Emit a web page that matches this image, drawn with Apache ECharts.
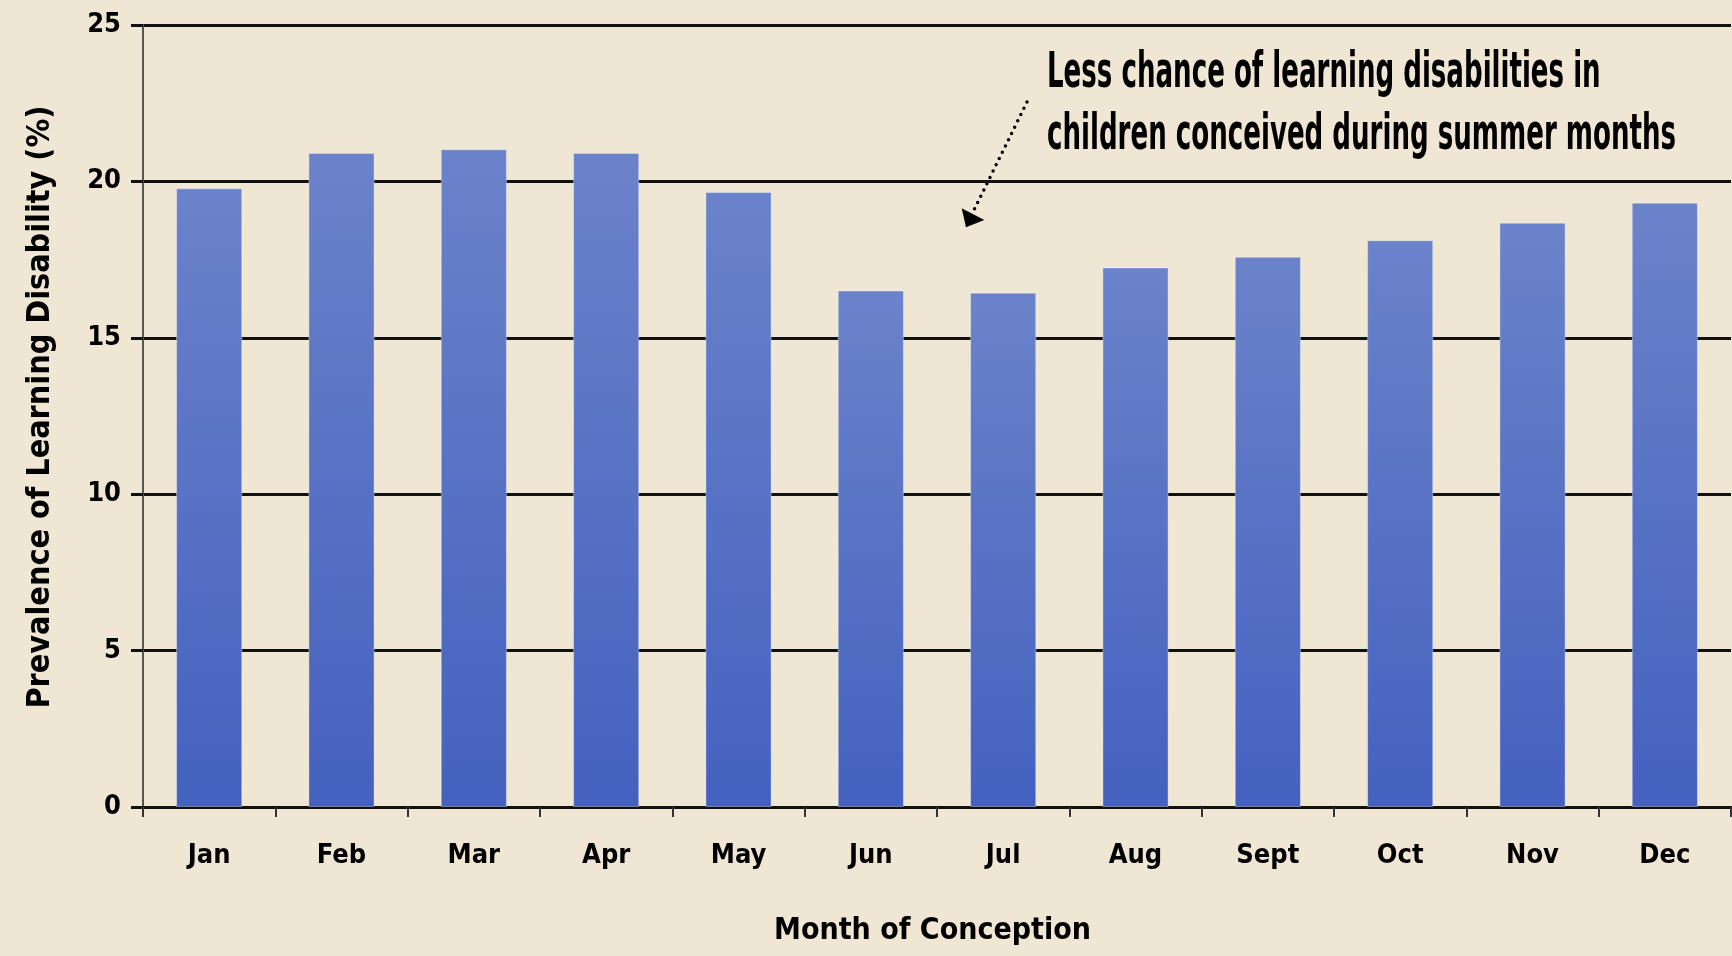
<!DOCTYPE html>
<html>
<head>
<meta charset="utf-8">
<script src="https://cdn.jsdelivr.net/npm/echarts@6/dist/echarts.min.js"></script>
<style>
html,body{margin:0;padding:0;background:#F0E6D4;}
#chart{width:1732px;height:956px;}
</style>
</head>
<body>
<div id="chart"></div>
<script>
var months = ['Jan','Feb','Mar','Apr','May','Jun','Jul','Aug','Sept','Oct','Nov','Dec'];
var prevalence = [19.78, 20.91, 21.03, 20.91, 19.66, 16.51, 16.44, 17.25, 17.59, 18.12, 18.68, 19.32];
var yTicks = { min: 0, max: 25, interval: 5 };
var annotationLines = ['Less chance of learning disabilities in', 'children conceived during summer months'];

var FONT = '"DejaVu Sans Condensed", "Liberation Sans Narrow", sans-serif';
var chart = echarts.init(document.getElementById('chart'), null, {renderer: 'canvas'});

var option = {
  backgroundColor: '#F0E6D4',
  animation: false,
  grid: { left: 143, top: 25, width: 1588, bottom: 149, containLabel: false },
  xAxis: {
    type: 'category',
    data: months,
    boundaryGap: true,
    name: 'Month of Conception',
    nameLocation: 'middle',
    nameGap: 109,
    nameTextStyle: { fontFamily: FONT, fontWeight: 'bold', fontSize: 30, color: '#000', padding: [0, 9, 0, 0] },
    axisLine: { show: true, lineStyle: { color: '#111', width: 3 } },
    axisTick: { show: true, length: 10, alignWithLabel: false, lineStyle: { color: '#333', width: 2 } },
    axisLabel: { fontFamily: FONT, fontWeight: 'bold', fontSize: 27, color: '#000', margin: 35 },
    splitLine: { show: false }
  },
  yAxis: {
    type: 'value',
    min: yTicks.min,
    max: yTicks.max,
    interval: yTicks.interval,
    name: 'Prevalence of Learning Disability (%)',
    nameLocation: 'middle',
    nameGap: 86,
    nameRotate: 90,
    nameTextStyle: { fontFamily: FONT, fontWeight: 'bold', fontSize: 32, color: '#000', padding: [0, 0, 0, 18] },
    axisLine: { show: true, lineStyle: { color: '#555', width: 2 } },
    axisTick: { show: true, length: 12, lineStyle: { color: '#111', width: 3 } },
    axisLabel: { fontFamily: FONT, fontWeight: 'bold', fontSize: 27, color: '#000', margin: 22 },
    splitLine: { show: true, lineStyle: { color: '#111', width: 3 } }
  },
  series: [{
    type: 'bar',
    data: prevalence,
    barWidth: '50%',
    itemStyle: {
      color: new echarts.graphic.LinearGradient(0, 0, 0, 1, [
        { offset: 0, color: '#6B83CA' },
        { offset: 1, color: '#4461BF' }
      ]),
      borderColor: 'rgba(255,255,255,0.35)',
      borderWidth: 1
    }
  }],
  graphic: [
    {
      type: 'text',
      x: 1047,
      y: 43,
      scaleY: 1.7,
      style: {
        text: annotationLines.join('\n'),
        fontFamily: FONT,
        fontWeight: 'bold',
        fontSize: 29,
        lineHeight: 36.5,
        verticalAlign: 'top',
        fill: '#000'
      }
    },
    {
      type: 'line',
      shape: { x1: 1027, y1: 102, x2: 973, y2: 212 },
      style: { stroke: '#000', lineWidth: 3.5, lineDash: [0, 7], lineCap: 'round' }
    },
    {
      type: 'polygon',
      shape: { points: [[961.7, 208.3], [984.3, 220], [966, 227.3]] },
      style: { fill: '#000' }
    }
  ]
};
chart.setOption(option);
</script>
</body>
</html>
